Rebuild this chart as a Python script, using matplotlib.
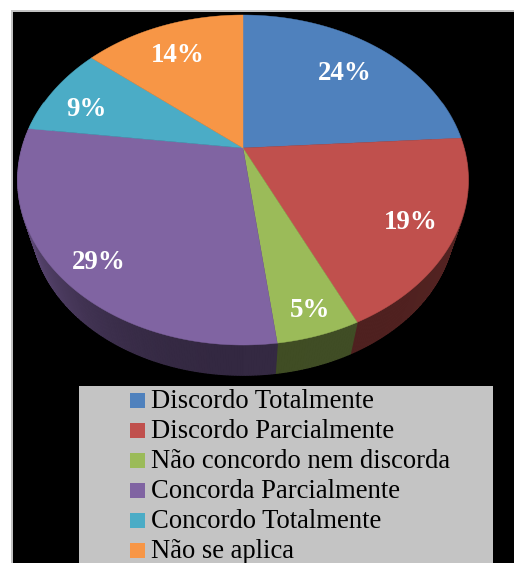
import numpy as np
import matplotlib
matplotlib.use("Agg")
import matplotlib.pyplot as plt
from matplotlib.patches import Rectangle

plt.rcParams["savefig.bbox"] = "standard"

categories = ["Discordo Totalmente", "Discordo Parcialmente", "Não concordo nem discorda",
              "Concorda Parcialmente", "Concordo Totalmente", "Não se aplica"]
percent = [24, 19, 5, 29, 9, 14]
colors = ["#4f81bd", "#c0504d", "#9bbb59", "#8064a2", "#4bacc6", "#f79646"]

# centre x and baseline y of each percent label, in pixels
label_x = [345, 411, 310, 99, 86, 178]
label_y = [80, 229, 317, 269, 116, 62]

W, H = 514, 563
CX, CY = 243, 148
RX, RY, TILT = 221, 158.8, 0.194
WALL_SCALE, WALL_DROP = 0.94, 42


def project(theta):
    # tilted disc in perspective, theta clockwise from 12 o'clock
    u = np.sin(theta)
    v = np.cos(theta)
    d = 1 + TILT * v
    return CX + RX * u / d, CY - RY * v / d


def project_low(theta):
    # rim of the underside of the disc
    x, y = project(theta)
    return CX + WALL_SCALE * (x - CX), CY + WALL_SCALE * (y - CY) + WALL_DROP


def wall_shade(theta):
    # side wall catches some light on the left only
    s = np.sin(theta)
    if s < 0:
        return 0.40 + 0.36 * abs(s) ** 2.5
    return 0.41 + 0.04 * s ** 4


fig = plt.figure(figsize=(W / 100, H / 100), dpi=100)
ax = fig.add_axes([0, 0, 1, 1])
ax.set_xlim(0, W)
ax.set_ylim(H, 0)
ax.axis("off")

# background panel, grey frame only along the left and top
ax.add_patch(Rectangle((11, 10), W, H, fc="black", ec="none"))
ax.plot([11.5, 11.5], [H, 10.5], color="#c8c8c8", lw=1.4, solid_capstyle="butt")
ax.plot([11, W], [10.5, 10.5], color="#c8c8c8", lw=1.4, solid_capstyle="butt")

edges = 2 * np.pi * np.cumsum([0] + percent) / sum(percent)

# side wall first, the top surface covers what is hidden
for i in range(len(percent)):
    steps = np.linspace(edges[i], edges[i + 1], max(2, percent[i] * 6))
    base = np.array(matplotlib.colors.to_rgb(colors[i]))
    for a, b in zip(steps[:-1], steps[1:]):
        if np.cos((a + b) / 2) > 0.3:
            continue
        x0, y0 = project(a)
        x1, y1 = project(b)
        x2, y2 = project_low(b)
        x3, y3 = project_low(a)
        c = base * wall_shade((a + b) / 2)
        ax.fill([x0, x1, x2, x3], [y0, y1, y2, y3], fc=c, ec=c, lw=0.9)

for i in range(len(percent)):
    t = np.linspace(edges[i], edges[i + 1], 120)
    x, y = project(t)
    ax.fill(np.r_[CX, x], np.r_[CY, y], fc=colors[i], ec=colors[i], lw=0.3)
    ax.text(label_x[i], label_y[i], "%d%%" % percent[i], color="white", fontsize=19.4,
            fontweight="bold", family="Liberation Serif", ha="center", va="baseline")

# legend box runs off the bottom edge
ax.add_patch(Rectangle((79, 386), 414, H - 386, fc="#c4c4c4", ec="none"))
for i, name in enumerate(categories):
    ax.add_patch(Rectangle((130, 393 + 30 * i), 15, 15, fc=colors[i], ec="none"))
    ax.text(151, 408 + 30 * i, name, color="black", fontsize=19.2,
            family="Liberation Serif", ha="left", va="baseline")

fig.savefig("out.png", dpi=100)
